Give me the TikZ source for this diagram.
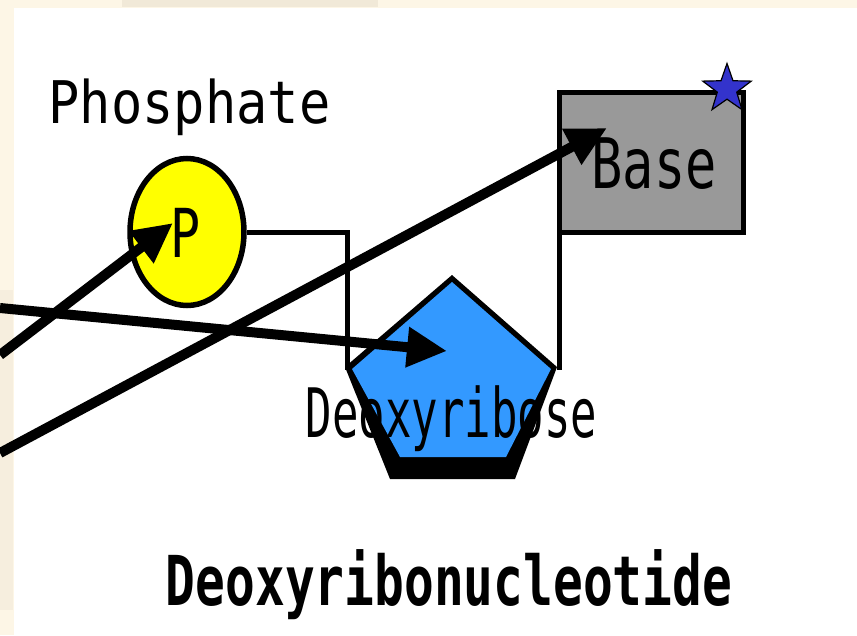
\documentclass[tikz,border=0pt]{standalone}
\usepackage{fontspec}
\usepackage{graphicx}
\usetikzlibrary{arrows.meta,shapes.geometric}
\newfontfamily\pixfont{DejaVu Sans Mono}
\definecolor{beige}{HTML}{FDF6E6}
\definecolor{tanbg}{HTML}{F1E9D8}
\definecolor{pyellow}{HTML}{FFFF00}
\definecolor{sugarblue}{HTML}{3399FF}
\definecolor{basegray}{HTML}{999999}
\definecolor{starblue}{HTML}{3333CC}
\begin{document}
\begin{tikzpicture}[x=1pt,y=-1pt,
  lbl/.style={inner sep=0,anchor=base,font=\pixfont},
  conn/.style={line width=5pt,black},
  bigarrow/.style={line width=10pt,black,-{Triangle[length=40pt,width=38pt]}}]
\fill[beige] (0,0) rectangle (857,635);
\fill[tanbg] (122,0) rectangle (378,7);
\fill[tanbg!60!beige] (0,290) rectangle (13,610);
\fill[white] (14,8) rectangle (857,635);
\useasboundingbox (0,0) rectangle (857,635);

% named points
\coordinate (sugL) at (347,370);
\coordinate (sugR) at (559,370);
\coordinate (sugC) at (447,351);
\coordinate (s1) at (0,355);
\coordinate (s2) at (0,308);
\coordinate (s3) at (0,453);

% phosphate
\node[ellipse,draw,line width=5.5pt,fill=pyellow,minimum width=114pt,minimum height=147pt,inner sep=0] (phos) at (187,232) {};
% base
\node[draw,line width=5.5pt,fill=basegray,minimum width=184pt,minimum height=140pt,inner sep=0] (base) at (651.5,162.5) {};

% connectors
\draw[conn] (phos.east) -| (sugL);
\draw[conn] (sugR |- base.south) -- (sugR);

% deoxyribose pentagon
\fill[black] (452,275) -- (557,367) -- (515,479) -- (390,479) -- (345,367) -- cycle;
\fill[sugarblue] (452,282) -- (551,369) -- (506,457) -- (400,457) -- (352,369) -- cycle;

% star
\node[star,star points=5,star point ratio=2.5,fill=starblue,draw=black,line width=1.2pt,minimum size=51pt,inner sep=0] (star) at (727,89) {};

% labels
\node[lbl] (tphos) at (189.5,123) {\fontsize{52}{52}\selectfont\scalebox{1}[1.13]{Phosphate}};
\node[lbl] (tp) at (186,257) {\fontsize{50}{50}\selectfont\scalebox{1}[1.35]{P}};
\node[lbl] (tbase) at (654,188) {\fontsize{52}{52}\selectfont\scalebox{1}[1.34]{Base}};
\node[lbl] (tsug) at (451.5,437) {\fontsize{44}{44}\selectfont\scalebox{1}[1.55]{Deoxyribose}};
\node[lbl,font=\pixfont\bfseries] (ttitle) at (449,605) {\fontsize{49.5}{49.5}\selectfont\scalebox{1}[1.39]{Deoxyribonucleotide}};

% arrows
\draw[bigarrow] (s1) -- (173,223) coordinate (tipP);
\draw[bigarrow] (s2) -- (sugC);
\draw[bigarrow] (s3) -- (607,128) coordinate (tipB);
\end{tikzpicture}
\end{document}
